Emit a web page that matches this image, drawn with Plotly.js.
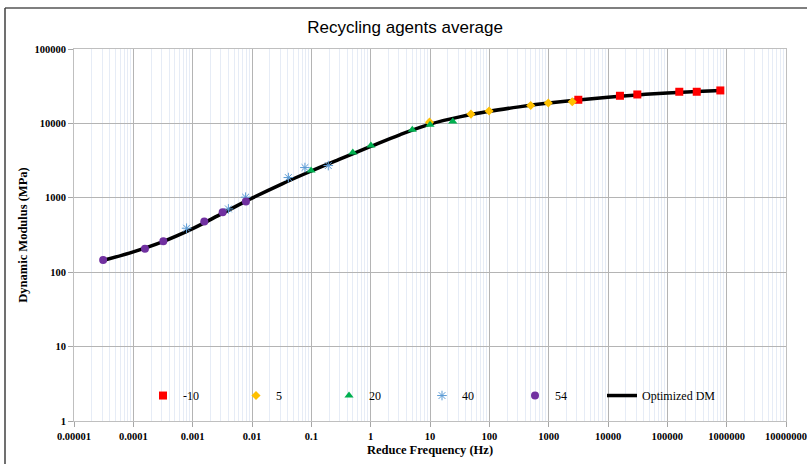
<!DOCTYPE html>
<html>
<head>
<meta charset="utf-8">
<script src="https://cdn.plot.ly/plotly-3.0.1.min.js"></script>
<style>
  html, body { margin: 0; padding: 0; background: #ffffff; }
  #chart { width: 807px; height: 464px; }
</style>
</head>
<body>
<div id="chart"></div>
<script>
// ---- data ----
const seriesNames = ['-10', '5', '20', '40', '54'];

const freqM10 = [3160, 15900, 31200, 159000, 313000, 782000];
const modM10  = [20780, 23520, 24480, 26620, 26620, 27730];

const freq5 = [9.8, 49, 99, 498, 986, 2500];
const mod5  = [10400, 13340, 14650, 17400, 18760, 19540];

const freq20 = [0.099, 0.50, 1.01, 5.03, 10, 24.2];
const mod20  = [2323, 4058, 5045, 8200, 9580, 10600];

const freq40 = [0.00079, 0.0040, 0.0078, 0.041, 0.078, 0.193];
const mod40  = [390, 709, 1019, 1870, 2550, 2712];

const freq54 = [0.000031, 0.000157, 0.00032, 0.00157, 0.0032, 0.0079];
const mod54  = [146, 207, 261, 479, 640, 889];

const curveName = 'Optimized DM';
const freqCurve = [0.0000316, 0.0001, 0.000316, 0.001, 0.00316, 0.01, 0.0316, 0.1, 0.316, 1, 3.16, 10, 31.6, 100, 316, 1000, 3160, 10000, 31600, 100000, 316000, 790000];
const modCurve  = [144.5, 188, 258, 385, 617, 989, 1531, 2291, 3350, 4898, 7080, 9770, 12250, 14560, 16672, 18750, 20701, 22491, 24155, 25586, 26792, 27669];

const xTickVals = [0.00001, 0.0001, 0.001, 0.01, 0.1, 1, 10, 100, 1000, 10000, 100000, 1000000, 10000000];
const xTickText = ['0.00001', '0.0001', '0.001', '0.01', '0.1', '1', '10', '100', '1000', '10000', '100000', '1000000', '10000000'];
const yTickVals = [1, 10, 100, 1000, 10000, 100000];
const yTickText = ['1', '10', '100', '1000', '10000', '100000'];

const titleText = 'Recycling agents average';
const xTitle = 'Reduce Frequency (Hz)';
const yTitle = 'Dynamic Modulus (MPa)';

// ---- styles ----
const markerStyles = [
  {symbol: 'square', size: 8, color: '#FF0000'},
  {symbol: 'diamond', size: 7, color: '#FFC000'},
  {symbol: 'triangle-up', size: 8, color: '#00B050'},
  {symbol: 'asterisk-open', size: 8, color: '#5B9BD5', line: {color: '#5B9BD5', width: 1}},
  {symbol: 'circle', size: 8, color: '#7030A0'}
];
const xs = [freqM10, freq5, freq20, freq40, freq54];
const ys = [modM10, mod5, mod20, mod40, mod54];

const traces = [];
traces.push({
  x: freqCurve, y: modCurve, name: curveName, type: 'scatter', mode: 'lines',
  line: {color: '#000000', width: 3.5, shape: 'spline', smoothing: 1},
  legend: 'legend2'
});
seriesNames.forEach((n, i) => {
  traces.push({
    x: xs[i], y: ys[i], name: n, type: 'scatter', mode: 'markers',
    marker: markerStyles[i], legendrank: i + 1
  });
});

// plot area in pixels: left 74, right 786, top 49, bottom 421.5
const L = 74, R = 786, T = 49, B = 421.5;
const px = v => (v - L) / (R - L);
const py = v => (B - v) / (B - T);

const serif = 'Liberation Serif, Times New Roman, serif';
const legendFont = {family: serif, size: 12, color: '#000000'};

const layout = {
  width: 807, height: 464,
  margin: {l: L, r: 807 - R, t: T, b: 464 - B},
  paper_bgcolor: '#ffffff', plot_bgcolor: '#ffffff',
  showlegend: true,
  title: {
    text: titleText, xref: 'container', x: 0.502, xanchor: 'center',
    yref: 'container', y: 1 - 27 / 464, yanchor: 'middle',
    font: {family: 'Liberation Sans Narrow, Arial Narrow, Liberation Sans, sans-serif', size: 17, color: '#000000'}
  },
  xaxis: {
    type: 'log', range: [-5, 7],
    tickvals: xTickVals, ticktext: xTickText,
    ticks: 'outside', ticklen: 5, tickcolor: '#a6a6a6',
    ticklabeloverflow: 'allow',
    showline: true, linecolor: '#bfbfbf', linewidth: 1, mirror: true,
    showgrid: true, gridcolor: '#b4b4b4', gridwidth: 1,
    minor: {dtick: 'D1', showgrid: true, gridcolor: '#e6ecf6', gridwidth: 1, ticks: ''},
    zeroline: false,
    tickfont: {family: serif, size: 10.5, color: '#000000', weight: 'bold'},
    title: {text: xTitle, standoff: 4, font: {family: serif, size: 12.5, color: '#000000', weight: 'bold'}}
  },
  yaxis: {
    type: 'log', range: [0, 5],
    tickvals: yTickVals, ticktext: yTickText,
    ticks: 'outside', ticklen: 5, tickcolor: '#a6a6a6',
    showline: true, linecolor: '#bfbfbf', linewidth: 1, mirror: true,
    showgrid: true, gridcolor: '#b4b4b4', gridwidth: 1,
    zeroline: false,
    tickfont: {family: serif, size: 10.5, color: '#000000', weight: 'bold'},
    title: {text: yTitle, standoff: 4, font: {family: serif, size: 12.5, color: '#000000', weight: 'bold'}}
  },
  legend: {
    orientation: 'h', x: px(143), xanchor: 'left', y: py(396), yanchor: 'middle',
    bgcolor: 'rgba(0,0,0,0)', borderwidth: 0,
    entrywidth: 48, entrywidthmode: 'pixels',
    font: legendFont, traceorder: 'normal'
  },
  legend2: {
    orientation: 'h', x: px(602), xanchor: 'left', y: py(396), yanchor: 'middle',
    bgcolor: 'rgba(0,0,0,0)', borderwidth: 0,
    font: legendFont
  },
  shapes: [
    {type: 'rect', xref: 'paper', yref: 'paper', x0: px(90), x1: px(770), y0: py(410), y1: py(382),
     fillcolor: '#ffffff', line: {width: 0}, layer: 'between'},
    {type: 'line', xref: 'paper', yref: 'paper', x0: px(5), x1: px(810), y0: py(8), y1: py(8),
     line: {color: '#7f7f7f', width: 2}},
    {type: 'line', xref: 'paper', yref: 'paper', x0: px(5), x1: px(5), y0: py(8), y1: py(470),
     line: {color: '#404040', width: 1.5}}
  ]
};

Plotly.newPlot('chart', traces, layout, {displayModeBar: false, staticPlot: true});
</script>
</body>
</html>
